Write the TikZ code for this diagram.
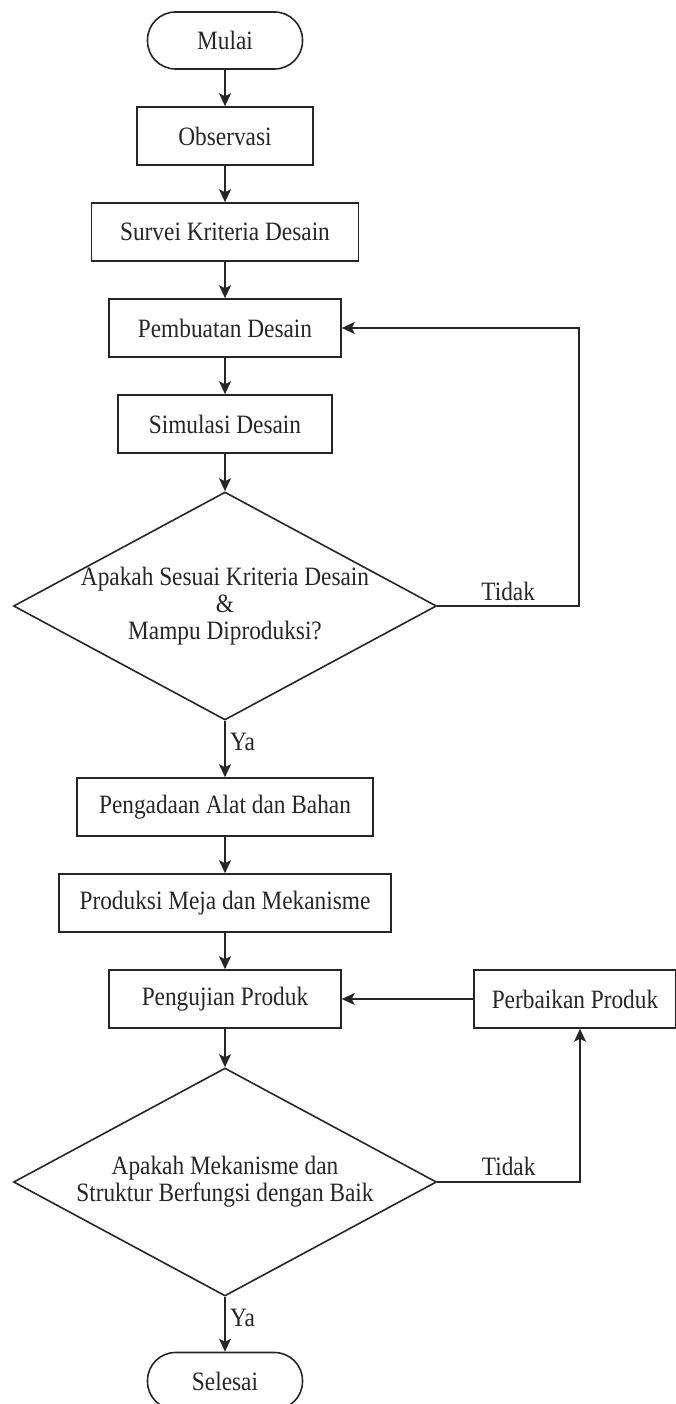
\documentclass[tikz,border=0pt]{standalone}
\usepackage{fontspec}
\setmainfont[FakeStretch=0.88]{Liberation Serif}
\usetikzlibrary{shapes.geometric,arrows.meta}
\begin{document}
\begin{tikzpicture}[x=1pt,y=-1pt]
\tikzset{
  txt/.style={font=\fontsize{26.5}{27}\selectfont, text=black!85},
  box/.style={txt, draw=black!85, line width=1.6pt, minimum height=58pt, inner sep=0pt},
  term/.style={box, rounded corners=28pt, minimum width=155pt, minimum height=57pt},
  dia/.style={draw=black!85, diamond, line width=1.6pt, minimum width=423pt, minimum height=228pt, inner sep=0pt},
  lbl/.style={txt, align=center},
  arr/.style={draw=black!85, line width=1.6pt, -{Stealth[length=13pt,width=12pt,inset=3pt]}},
}
\useasboundingbox (0,0) rectangle (676,1404);
\clip (0,0) rectangle (676,1404);

\node[term] (mulai) at (225,40.5) {Mulai};
\node[box, minimum width=176pt] (obs) at (225,136) {Observasi};
\node[box, minimum width=267pt] (surv) at (225,232) {Survei Kriteria Desain};
\node[box, minimum width=232pt] (pemb) at (225,328) {Pembuatan Desain};
\node[box, minimum width=214pt] (sim) at (225,424) {Simulasi Desain};
\node[dia] (d1) at (225,606) {};
\node[lbl] (t1) at (d1.center) {Apakah Sesuai Kriteria Desain\\\&\\Mampu Diproduksi?};
\node[box, minimum width=296pt] (peng) at (225,807) {Pengadaan Alat dan Bahan};
\node[box, minimum width=332pt] (prod) at (225,903) {Produksi Meja dan Mekanisme};
\node[box, minimum width=232pt] (uji) at (225,999) {Pengujian Produk};
\node[box, minimum width=202pt] (perb) at (575,999) {Perbaikan Produk};
\node[dia] (d2) at (225,1182) {};
\node[lbl] (t2) at (d2.center) {Apakah Mekanisme dan\\Struktur Berfungsi dengan Baik};
\node[term] (sel) at (225,1381) {Selesai};

\coordinate (c1) at (579,606);
\coordinate (c2) at (580,1182);

\draw[arr] (mulai) -- (obs);
\draw[arr] (obs) -- (surv);
\draw[arr] (surv) -- (pemb);
\draw[arr] (pemb) -- (sim);
\draw[arr] (sim) -- (d1.north);
\draw[arr] (d1.south) -- node[txt, pos=0.38, right, xshift=1pt] {Ya} (peng);
\draw[arr] (d1.east) -- node[txt, above, yshift=1pt] {Tidak} (c1) |- (pemb.east);
\draw[arr] (peng) -- (prod);
\draw[arr] (prod) -- (uji);
\draw[arr] (uji) -- (d2.north);
\draw[arr] (d2.east) -- node[txt, above, yshift=2pt] {Tidak} (c2) -- (c2 |- perb.south);
\draw[arr] (perb.west) -- (uji.east);
\draw[arr] (d2.south) -- node[txt, pos=0.38, right, xshift=1pt] {Ya} (sel);
\end{tikzpicture}
\end{document}
